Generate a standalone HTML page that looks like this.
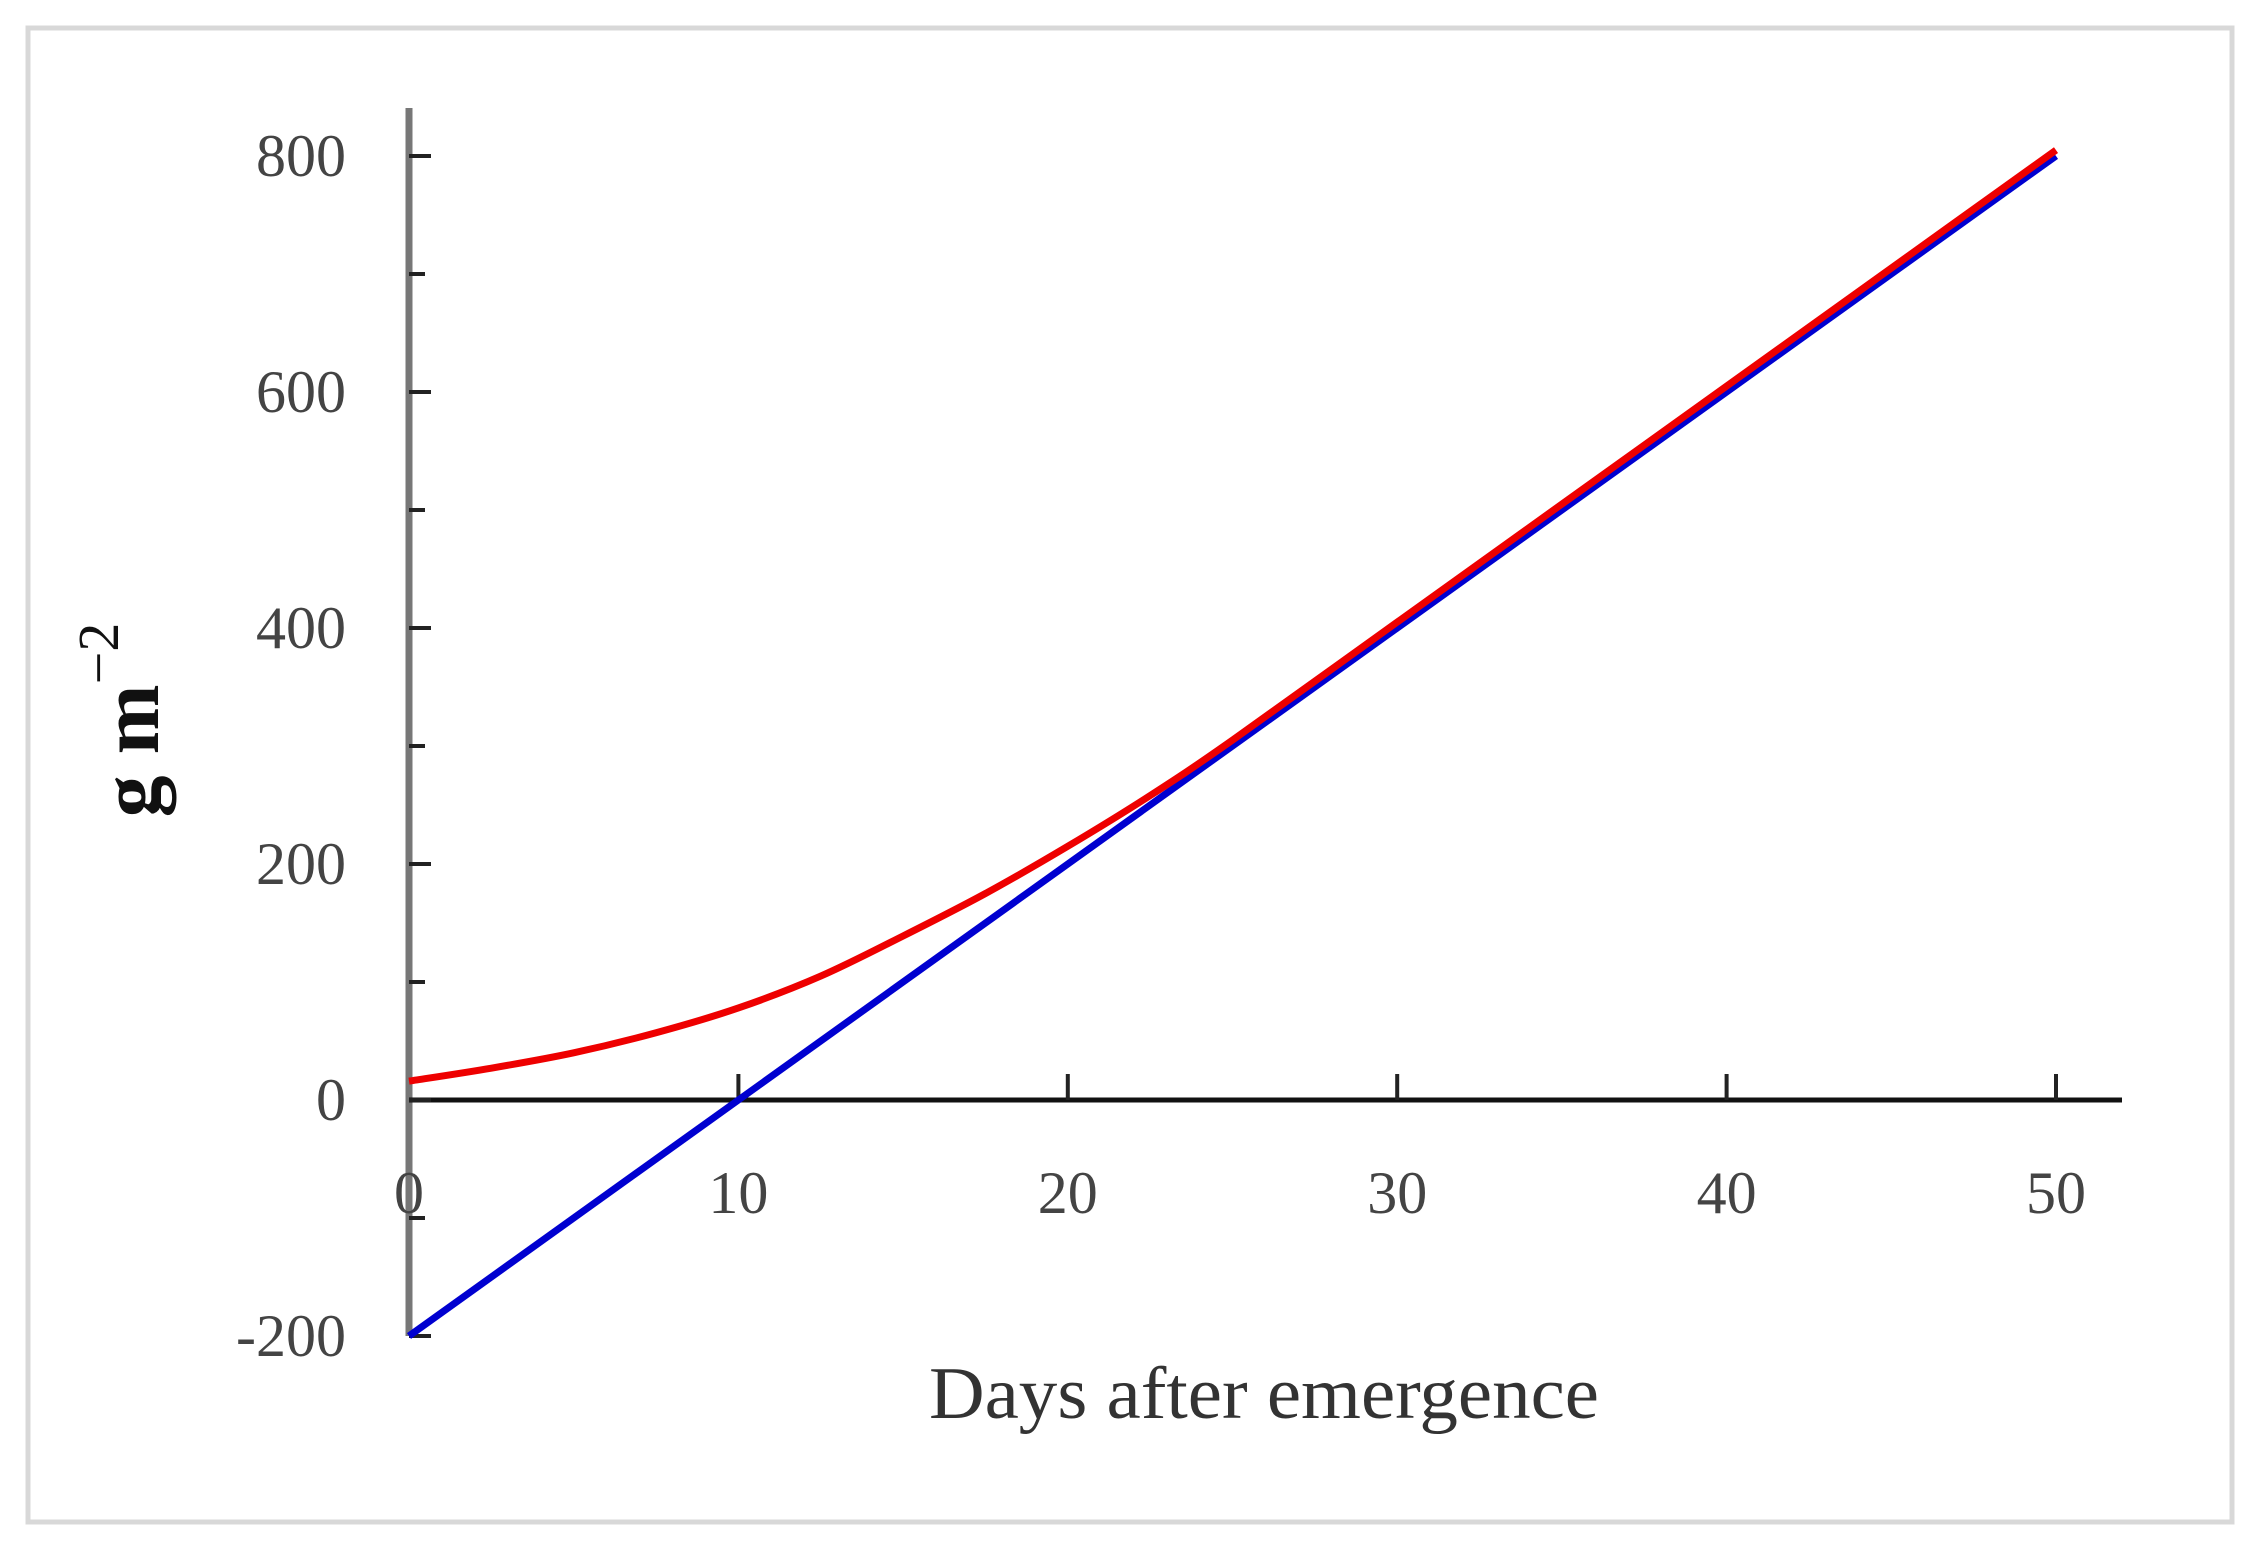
<!DOCTYPE html>
<html><head><meta charset="utf-8"><style>
html,body{margin:0;padding:0;background:#fff;}
svg{display:block;}
text{font-family:"Liberation Serif",serif;}
</style></head><body>
<svg id="chart" width="2258" height="1550" viewBox="0 0 2258 1550" xmlns="http://www.w3.org/2000/svg">
<rect x="28" y="28" width="2204" height="1494" fill="#fff" stroke="#d8d8d8" stroke-width="5"/>
<g id="axes"></g>
<g id="series"></g>
<text x="1264" y="1418" font-size="74" fill="#333" text-anchor="middle" textLength="670" lengthAdjust="spacingAndGlyphs">Days after emergence</text>
<text transform="translate(158,720) rotate(-90)" font-size="84" font-weight="bold" fill="#111" text-anchor="middle">g m<tspan dy="-40" font-size="58" font-weight="normal">−2</tspan></text>
</svg>
<script>
const xTicks=[0,10,20,30,40,50];
const yTicks=[-200,0,200,400,600,800];
const yMinor=[-100,100,300,500,700];
const days=[0,2.5,5,7.5,10,12.5,15,17.5,20,22.5,25,30,35,40,45,50];
const redVals=[16,27,40,57,78,105,139,175,215,258,305,405,505,605,705,805];
const blueDays=[0,50];
const blueVals=[-200,800];
const X0=409,X1=2056,Y0=1100,Y800=156;
const sx=v=>X0+(X1-X0)*v/50;
const sy=v=>Y0-(Y0-Y800)*v/800;
const NS="http://www.w3.org/2000/svg";
const ax=document.getElementById('axes'),se=document.getElementById('series');
function mk(tag,at,parent){const e=document.createElementNS(NS,tag);for(const k in at)e.setAttribute(k,at[k]);parent.appendChild(e);return e;}
let yl=mk('line',{x1:X0,y1:108,x2:X0,y2:sy(-200),stroke:'#777',"stroke-width":7},ax);


let xl=mk('line',{x1:X0,y1:Y0,x2:2122,y2:Y0,stroke:'#111',"stroke-width":5},ax);


yTicks.forEach(v=>{
 let t=mk('line',{x1:X0,y1:sy(v),x2:X0+22,y2:sy(v),stroke:'#222',"stroke-width":4},ax);
 
 
 let l=mk('text',{x:346,y:sy(v)+20,"font-size":60,fill:'#444',"text-anchor":'end'},ax);
 l.textContent=v;
 
 
});
yMinor.forEach(v=>{
 let t=mk('line',{x1:X0,y1:sy(v),x2:X0+16,y2:sy(v),stroke:'#222',"stroke-width":4},ax);
 
 
});
xTicks.forEach(v=>{
 if(v>0){let t=mk('line',{x1:sx(v),y1:Y0,x2:sx(v),y2:Y0-26,stroke:'#222',"stroke-width":4},ax);
 
 }
 let l=mk('text',{x:sx(v),y:1213,"font-size":60,fill:'#444',"text-anchor":'middle'},ax);
 l.textContent=v;
 
 
});
function smooth(xs,ys){const p=xs.map((x,i)=>[sx(x),sy(ys[i])]);let d='M'+p[0][0]+','+p[0][1];
 for(let i=0;i<p.length-1;i++){const a=p[i-1]||p[i],b=p[i],c=p[i+1],e=p[i+2]||c;
 d+=` C${b[0]+(c[0]-a[0])/6},${b[1]+(c[1]-a[1])/6} ${c[0]-(e[0]-b[0])/6},${c[1]-(e[1]-b[1])/6} ${c[0]},${c[1]}`;}return d;}
let bl=mk('path',{d:'M'+blueDays.map((x,i)=>sx(x)+','+sy(blueVals[i])).join(' L'),fill:'none',stroke:'#0000d0',"stroke-width":7},se);


let rd=mk('path',{d:smooth(days,redVals),fill:'none',stroke:'#ee0000',"stroke-width":7},se);


</script>
</body></html>
